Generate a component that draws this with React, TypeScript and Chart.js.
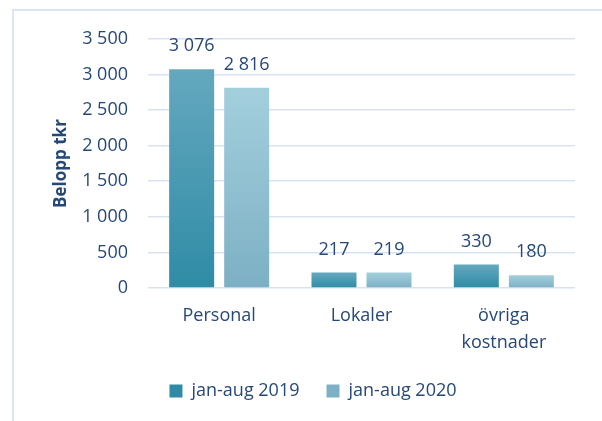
import { useEffect, useRef } from "react";
import { Chart, registerables } from "chart.js";

Chart.register(...registerables);

const categories: (string | string[])[] = ["Personal", "Lokaler", ["övriga", "kostnader"]];
const series2019 = [3076, 217, 330];
const series2020 = [2816, 219, 180];
const seriesLabels = ["jan-aug 2019", "jan-aug 2020"];
const yMin = 0;
const yMax = 3500;
const yStep = 500;
const yTitle = "Belopp tkr";

const TEXT = "#264879";
const FONT = "'Open Sans', 'Noto Sans', sans-serif";
const GRID = "#d8e3f2";
const FS = 18;

function fmt(v: number): string {
  return String(Math.round(v)).replace(/\B(?=(\d{3})+(?!\d))/g, " ");
}

const grad = (top: string, bottom: string, mid: string) => (ctx: any) => {
  const chart = ctx.chart;
  const y = chart.scales && chart.scales.y;
  if (!y || ctx.type !== "data") return mid;
  const v = ctx.raw as number;
  const yTop = y.getPixelForValue(v);
  const yBase = y.getPixelForValue(0);
  if (!isFinite(yTop) || !isFinite(yBase) || Math.abs(yTop - yBase) < 1) return mid;
  const g = chart.ctx.createLinearGradient(0, yTop, 0, yBase);
  g.addColorStop(0, top);
  g.addColorStop(1, bottom);
  return g;
};

const valueLabels = {
  id: "valueLabels",
  afterDatasetsDraw(chart: any) {
    const ctx = chart.ctx;
    ctx.save();
    ctx.fillStyle = TEXT;
    ctx.font = `${FS}px ${FONT}`;
    ctx.textAlign = "center";
    ctx.textBaseline = "middle";
    chart.data.datasets.forEach((ds: any, di: number) => {
      const meta = chart.getDatasetMeta(di);
      meta.data.forEach((el: any, i: number) => {
        ctx.fillText(fmt(ds.data[i]), el.x, el.y - 23);
      });
    });
    ctx.restore();
  },
};

export default function App() {
  const ref = useRef<HTMLCanvasElement | null>(null);

  useEffect(() => {
    if (!ref.current) return;
    const chart = new Chart(ref.current, {
      type: "bar",
      data: {
        labels: categories as any,
        datasets: [
          {
            label: seriesLabels[0],
            data: series2019,
            backgroundColor: grad("#64a8bf", "#2f8ba5", "#3a93ac"),
            borderWidth: 0,
            categoryPercentage: 0.773,
            barPercentage: 0.818,
          },
          {
            label: seriesLabels[1],
            data: series2020,
            backgroundColor: grad("#a3cfdd", "#7db0c4", "#90c2d3"),
            borderWidth: 0,
            categoryPercentage: 0.773,
            barPercentage: 0.818,
          },
        ],
      },
      options: {
        responsive: false,
        animation: false,
        devicePixelRatio: 1,
        layout: { padding: { left: 51, right: 27, top: 39, bottom: 11 } },
        plugins: {
          tooltip: { enabled: false },
          legend: {
            position: "bottom",
            labels: {
              boxWidth: 13,
              boxHeight: 13,
              padding: 27,
              color: TEXT,
              font: { family: FONT, size: FS },
            },
          },
        },
        scales: {
          x: {
            afterFit: (s: any) => {
              s.height = 67;
            },
            grid: { display: false, drawTicks: false },
            border: { display: false },
            ticks: {
              color: TEXT,
              padding: 14,
              font: { family: FONT, size: FS, lineHeight: 1.5 },
            },
          },
          y: {
            min: yMin,
            max: yMax,
            afterFit: (s: any) => {
              s.width = 97;
            },
            grid: { color: GRID, lineWidth: 1.6, drawTicks: false },
            border: { display: false },
            ticks: {
              stepSize: yStep,
              padding: 20,
              color: TEXT,
              font: { family: FONT, size: FS },
              callback: (v: any) => fmt(Number(v)),
            },
            title: {
              display: true,
              text: yTitle,
              color: TEXT,
              padding: 0,
              font: { family: FONT, size: 17, weight: "bold" },
            },
          },
        },
      },
      plugins: [valueLabels],
    });
    return () => chart.destroy();
  }, []);

  return (
    <div
      style={{
        position: "absolute",
        left: 0,
        top: 0,
        width: 602,
        height: 421,
        overflow: "hidden",
        background: "#fff",
      }}
    >
      <div
        style={{
          position: "absolute",
          left: 12,
          top: 9,
          width: 800,
          height: 600,
          borderLeft: "2px solid #dbe6f4",
          borderTop: "2px solid #dbe6f4",
        }}
      />
      <canvas
        ref={ref}
        width={602}
        height={421}
        style={{ position: "absolute", left: 0, top: 0, width: 602, height: 421 }}
      />
    </div>
  );
}
